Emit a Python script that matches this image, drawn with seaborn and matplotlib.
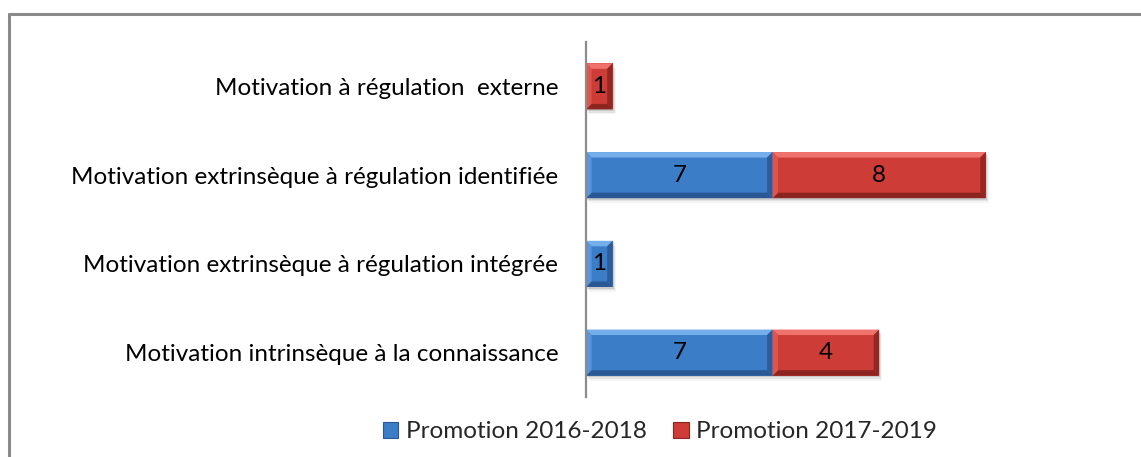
import numpy as np
import pandas as pd
import matplotlib
matplotlib.use("Agg")
import matplotlib.pyplot as plt
from matplotlib.patches import Polygon, Rectangle
from matplotlib.lines import Line2D
import seaborn as sns

categories = [
    "Motivation à régulation  externe",
    "Motivation extrinsèque à régulation identifiée",
    "Motivation extrinsèque à régulation intégrée",
    "Motivation intrinsèque à la connaissance",
]
promo_2016 = [0, 7, 1, 7]
promo_2017 = [1, 8, 0, 4]
series_names = ["Promotion 2016-2018", "Promotion 2017-2019"]

sns.set_theme(style="white")
plt.rcParams["font.family"] = ["Lato", "DejaVu Sans"]

FS = 17.5

BLUE = "#3C7DC8"
BLUE_LIGHT = "#74AEEB"
BLUE_SIDE = "#5A96DA"
BLUE_DARK = "#2A5894"
RED = "#CD3C37"
RED_LIGHT = "#F0726C"
RED_SIDE = "#DE5550"
RED_DARK = "#8C2420"

df = pd.DataFrame({
    "cat": categories,
    "a": promo_2016,
    "b": promo_2017,
})
df["total"] = df["a"] + df["b"]

fig = plt.figure(figsize=(11.41, 4.57), dpi=100)
ax = fig.add_axes([586 / 1141, 1 - 397 / 457, (1119 - 586) / 1141, (397 - 42) / 457])

bar_w = 0.52
sns.barplot(data=df, y="cat", x="total", color=RED, orient="h", width=bar_w,
            ax=ax, saturation=1, linewidth=0)
sns.barplot(data=df, y="cat", x="a", color=BLUE, orient="h", width=bar_w,
            ax=ax, saturation=1, linewidth=0)

ax.set_xlim(0, 20)
ax.set_ylim(len(categories) - 0.5, -0.5)

# pixel -> data unit conversion for the bevel size
px_x = 20 / (1119 - 586)
px_y = len(categories) / (397 - 42)
bev = 5.5

red_patches = ax.patches[: len(categories)]
blue_patches = ax.patches[len(categories): 2 * len(categories)]


def bevel(x0, x1, y0, y1, face, light, side, dark, z):
    # y0 is the top edge (axis inverted: smaller y is higher)
    bx = bev * px_x
    by = bev * px_y
    # soft drop shadow below and right
    for i, a in enumerate([0.10, 0.07, 0.04]):
        off = (i + 1) * 1.6
        ax.add_patch(Rectangle((x0 + off * px_x * 0.6, y0 + off * px_y),
                               x1 - x0, y1 - y0, facecolor="#000000",
                               alpha=a, linewidth=0, zorder=z - 1))
    ax.add_patch(Rectangle((x0, y0), x1 - x0, y1 - y0, facecolor=face,
                           linewidth=0, zorder=z))
    # top strip
    ax.add_patch(Polygon([(x0, y0), (x1, y0), (x1 - bx, y0 + by), (x0 + bx, y0 + by)],
                         closed=True, facecolor=light, linewidth=0, zorder=z + 1))
    # bottom strip
    ax.add_patch(Polygon([(x0, y1), (x1, y1), (x1 - bx, y1 - by), (x0 + bx, y1 - by)],
                         closed=True, facecolor=dark, linewidth=0, zorder=z + 1))
    # left strip
    ax.add_patch(Polygon([(x0, y0), (x0 + bx, y0 + by), (x0 + bx, y1 - by), (x0, y1)],
                         closed=True, facecolor=side, linewidth=0, zorder=z + 1))
    # right strip
    ax.add_patch(Polygon([(x1, y0), (x1 - bx, y0 + by), (x1 - bx, y1 - by), (x1, y1)],
                         closed=True, facecolor=dark, alpha=0.85, linewidth=0, zorder=z + 1))


for rp, bp, va, vb in zip(red_patches, blue_patches, df["a"], df["b"]):
    y0 = rp.get_y()
    h = rp.get_height()
    yc = y0 + h / 2
    rp.set_visible(False)
    bp.set_visible(False)
    if va > 0:
        bevel(0, va, y0, y0 + h, BLUE, BLUE_LIGHT, BLUE_SIDE, BLUE_DARK, 3)
        ax.text(va / 2, yc, f"{va}", ha="center", va="center", fontsize=FS,
                color="black", zorder=10)
    if vb > 0:
        bevel(va, va + vb, y0, y0 + h, RED, RED_LIGHT, RED_SIDE, RED_DARK, 5)
        ax.text(va + vb / 2, yc, f"{vb}", ha="center", va="center", fontsize=FS,
                color="black", zorder=10)

ax.set_xlabel("")
ax.set_ylabel("")
ax.set_xticks([])
ax.tick_params(axis="y", length=0, pad=20, labelsize=FS, labelcolor="black")
for s in ["top", "right", "bottom"]:
    ax.spines[s].set_visible(False)
ax.spines["left"].set_color("#8C8C8C")
ax.spines["left"].set_linewidth(1.6)
ax.spines["left"].set_zorder(20)
ax.set_facecolor("none")

handles = [Rectangle((0, 0), 1, 1, facecolor=BLUE, edgecolor=BLUE_DARK, linewidth=0.8),
           Rectangle((0, 0), 1, 1, facecolor=RED, edgecolor=RED_DARK, linewidth=0.8)]
fig.legend(handles, series_names, loc="center", bbox_to_anchor=(660 / 1141, 1 - 432 / 457),
           ncol=2, frameon=False, fontsize=FS, handlelength=0.65, handleheight=0.65,
           handletextpad=0.3, columnspacing=1.1)

# outer chart border (top and left edges visible)
fig.add_artist(Line2D([9 / 1141, 1.0], [1 - 14 / 457, 1 - 14 / 457],
                      transform=fig.transFigure, color="#8A8A8A", linewidth=2.2))
fig.add_artist(Line2D([9 / 1141, 9 / 1141], [0.0, 1 - 14 / 457],
                      transform=fig.transFigure, color="#8A8A8A", linewidth=2.2))

fig.savefig("out.png", dpi=100)
